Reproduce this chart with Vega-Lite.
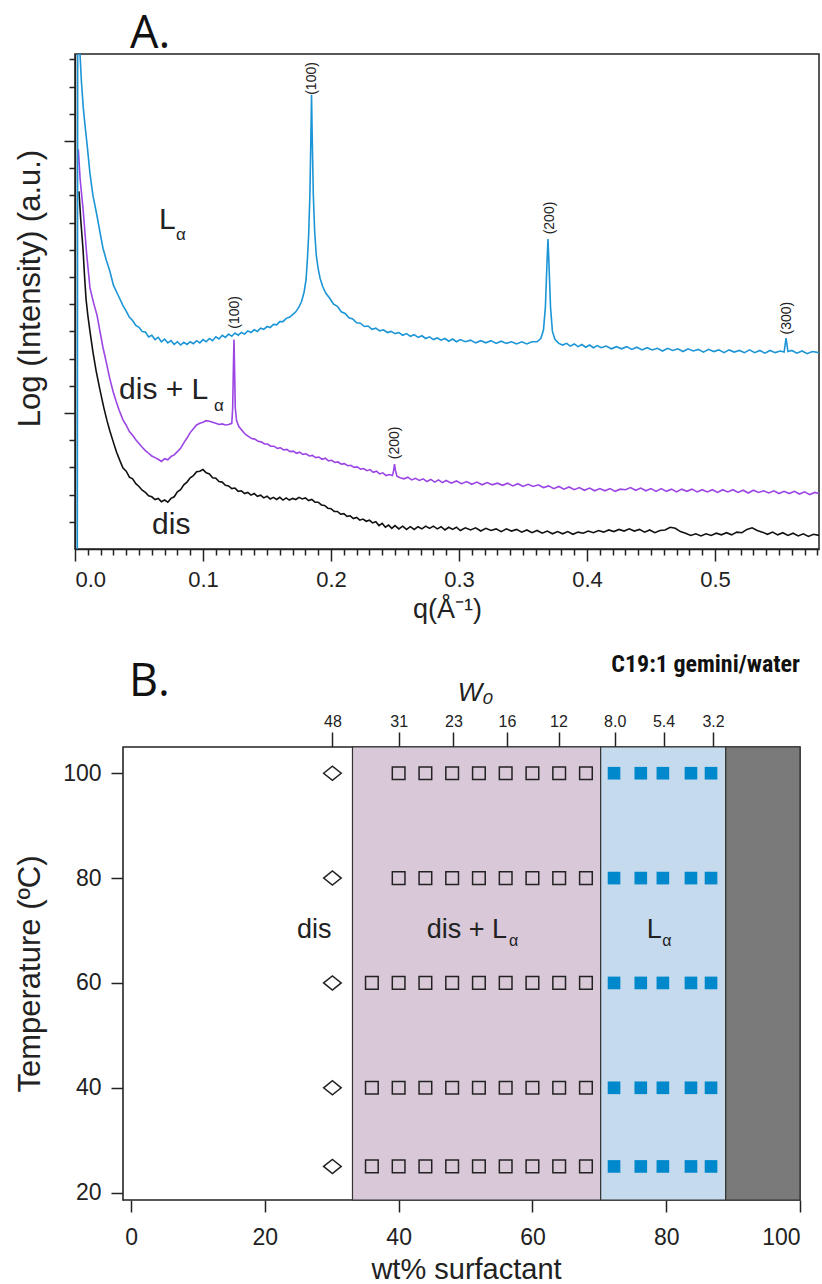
{
  "$schema": "https://vega.github.io/schema/vega-lite/v6.json",
  "padding": {"left": 13, "top": 11, "right": 0, "bottom": 0},
  "background": "white",
  "config": {
    "font": "Liberation Sans",
    "view": {"stroke": "#222", "strokeWidth": 1.5},
    "axis": {"domainColor": "#222", "tickColor": "#222", "labelColor": "#222", "titleColor": "#222", "grid": false, "domainWidth": 1.5, "tickWidth": 1.5, "titleFontWeight": "normal"}
  },
  "datasets": {
    "la": [
      {"q":0.0018,"v":0},{"q":0.0021,"v":18.2},{"q":0.0039,"v":18.2},{"q":0.005,"v":17.2},{"q":0.0065,"v":16.2},{"q":0.008,"v":15.5},{"q":0.0095,"v":14.85},{"q":0.0117,"v":13.8},{"q":0.014,"v":13.0},{"q":0.017,"v":12.3},{"q":0.0195,"v":11.65},{"q":0.0219,"v":11.05},{"q":0.0245,"v":10.62},{"q":0.0273,"v":10.2},{"q":0.03,"v":9.7},{"q":0.0325,"v":9.45},{"q":0.035,"v":9.2},{"q":0.0375,"v":8.95},{"q":0.04,"v":8.75},{"q":0.0425,"v":8.52},{"q":0.045,"v":8.4},{"q":0.0475,"v":8.22},{"q":0.05,"v":8.15},{"q":0.0525,"v":8.0},{"q":0.055,"v":7.98},{"q":0.0575,"v":7.8},{"q":0.06,"v":7.86},{"q":0.0625,"v":7.7},{"q":0.065,"v":7.78},{"q":0.0675,"v":7.62},{"q":0.07,"v":7.72},{"q":0.0725,"v":7.58},{"q":0.075,"v":7.66},{"q":0.0775,"v":7.52},{"q":0.08,"v":7.62},{"q":0.0825,"v":7.5},{"q":0.085,"v":7.6},{"q":0.0875,"v":7.52},{"q":0.09,"v":7.62},{"q":0.0925,"v":7.55},{"q":0.095,"v":7.66},{"q":0.0975,"v":7.58},{"q":0.1,"v":7.7},{"q":0.1025,"v":7.62},{"q":0.105,"v":7.74},{"q":0.1075,"v":7.66},{"q":0.11,"v":7.8},{"q":0.1125,"v":7.72},{"q":0.115,"v":7.86},{"q":0.1175,"v":7.78},{"q":0.12,"v":7.9},{"q":0.1225,"v":7.82},{"q":0.125,"v":7.94},{"q":0.1275,"v":7.86},{"q":0.13,"v":7.96},{"q":0.1325,"v":7.9},{"q":0.135,"v":8.02},{"q":0.1375,"v":7.96},{"q":0.14,"v":8.06},{"q":0.1425,"v":8.0},{"q":0.145,"v":8.12},{"q":0.1475,"v":8.08},{"q":0.15,"v":8.18},{"q":0.1525,"v":8.14},{"q":0.155,"v":8.26},{"q":0.1575,"v":8.24},{"q":0.16,"v":8.36},{"q":0.1625,"v":8.36},{"q":0.165,"v":8.48},{"q":0.1675,"v":8.52},{"q":0.17,"v":8.62},{"q":0.1725,"v":8.72},{"q":0.175,"v":8.9},{"q":0.177,"v":9.1},{"q":0.179,"v":9.45},{"q":0.1805,"v":9.9},{"q":0.1815,"v":10.6},{"q":0.1825,"v":11.5},{"q":0.1835,"v":13.0},{"q":0.1843,"v":15.2},{"q":0.1848,"v":16.7},{"q":0.1853,"v":15.2},{"q":0.1862,"v":13.0},{"q":0.1872,"v":11.7},{"q":0.1885,"v":10.8},{"q":0.19,"v":10.3},{"q":0.1915,"v":9.95},{"q":0.1935,"v":9.65},{"q":0.196,"v":9.4},{"q":0.199,"v":9.22},{"q":0.202,"v":9.0},{"q":0.205,"v":8.92},{"q":0.208,"v":8.72},{"q":0.211,"v":8.66},{"q":0.214,"v":8.5},{"q":0.217,"v":8.46},{"q":0.22,"v":8.32},{"q":0.223,"v":8.3},{"q":0.226,"v":8.18},{"q":0.229,"v":8.2},{"q":0.232,"v":8.08},{"q":0.235,"v":8.12},{"q":0.238,"v":8.02},{"q":0.241,"v":8.06},{"q":0.244,"v":7.96},{"q":0.247,"v":8.0},{"q":0.25,"v":7.92},{"q":0.253,"v":7.96},{"q":0.256,"v":7.86},{"q":0.259,"v":7.92},{"q":0.262,"v":7.82},{"q":0.265,"v":7.88},{"q":0.268,"v":7.78},{"q":0.271,"v":7.84},{"q":0.274,"v":7.74},{"q":0.277,"v":7.8},{"q":0.28,"v":7.7},{"q":0.283,"v":7.76},{"q":0.286,"v":7.68},{"q":0.289,"v":7.74},{"q":0.292,"v":7.64},{"q":0.295,"v":7.72},{"q":0.298,"v":7.62},{"q":0.301,"v":7.7},{"q":0.305,"v":7.62},{"q":0.309,"v":7.68},{"q":0.313,"v":7.58},{"q":0.317,"v":7.66},{"q":0.321,"v":7.58},{"q":0.325,"v":7.66},{"q":0.329,"v":7.56},{"q":0.333,"v":7.64},{"q":0.337,"v":7.56},{"q":0.341,"v":7.62},{"q":0.345,"v":7.54},{"q":0.349,"v":7.62},{"q":0.353,"v":7.54},{"q":0.357,"v":7.62},{"q":0.361,"v":7.62},{"q":0.364,"v":7.75},{"q":0.366,"v":8.05},{"q":0.3675,"v":8.9},{"q":0.3688,"v":10.6},{"q":0.3695,"v":11.4},{"q":0.3702,"v":10.6},{"q":0.3715,"v":8.9},{"q":0.373,"v":8.0},{"q":0.375,"v":7.7},{"q":0.378,"v":7.56},{"q":0.381,"v":7.5},{"q":0.384,"v":7.56},{"q":0.387,"v":7.46},{"q":0.39,"v":7.54},{"q":0.393,"v":7.44},{"q":0.396,"v":7.52},{"q":0.399,"v":7.42},{"q":0.402,"v":7.5},{"q":0.405,"v":7.4},{"q":0.408,"v":7.48},{"q":0.411,"v":7.4},{"q":0.415,"v":7.46},{"q":0.419,"v":7.36},{"q":0.423,"v":7.44},{"q":0.427,"v":7.36},{"q":0.431,"v":7.44},{"q":0.435,"v":7.34},{"q":0.439,"v":7.42},{"q":0.443,"v":7.32},{"q":0.447,"v":7.4},{"q":0.451,"v":7.32},{"q":0.455,"v":7.38},{"q":0.459,"v":7.28},{"q":0.463,"v":7.38},{"q":0.467,"v":7.3},{"q":0.471,"v":7.36},{"q":0.475,"v":7.26},{"q":0.479,"v":7.36},{"q":0.483,"v":7.28},{"q":0.487,"v":7.34},{"q":0.491,"v":7.24},{"q":0.495,"v":7.34},{"q":0.499,"v":7.26},{"q":0.503,"v":7.32},{"q":0.507,"v":7.22},{"q":0.511,"v":7.32},{"q":0.515,"v":7.24},{"q":0.519,"v":7.3},{"q":0.523,"v":7.22},{"q":0.527,"v":7.32},{"q":0.531,"v":7.22},{"q":0.535,"v":7.3},{"q":0.539,"v":7.2},{"q":0.543,"v":7.3},{"q":0.547,"v":7.22},{"q":0.551,"v":7.28},{"q":0.554,"v":7.24},{"q":0.5555,"v":7.75},{"q":0.557,"v":7.26},{"q":0.56,"v":7.3},{"q":0.564,"v":7.2},{"q":0.568,"v":7.28},{"q":0.572,"v":7.18},{"q":0.576,"v":7.26},{"q":0.5813,"v":7.22}
    ],
    "mix": [
      {"q":0.0026,"v":14.7},{"q":0.004,"v":13.6},{"q":0.0063,"v":12.5},{"q":0.009,"v":10.9},{"q":0.0117,"v":9.6},{"q":0.0145,"v":9.05},{"q":0.0172,"v":8.6},{"q":0.0195,"v":8.0},{"q":0.0219,"v":7.4},{"q":0.0245,"v":6.85},{"q":0.027,"v":6.3},{"q":0.0297,"v":5.8},{"q":0.032,"v":5.45},{"q":0.0345,"v":5.1},{"q":0.0375,"v":4.75},{"q":0.04,"v":4.55},{"q":0.0425,"v":4.32},{"q":0.045,"v":4.18},{"q":0.0475,"v":4.02},{"q":0.05,"v":3.88},{"q":0.0525,"v":3.74},{"q":0.055,"v":3.62},{"q":0.0575,"v":3.52},{"q":0.06,"v":3.42},{"q":0.0625,"v":3.36},{"q":0.065,"v":3.3},{"q":0.0675,"v":3.22},{"q":0.07,"v":3.32},{"q":0.0725,"v":3.28},{"q":0.075,"v":3.4},{"q":0.0775,"v":3.46},{"q":0.08,"v":3.58},{"q":0.0825,"v":3.7},{"q":0.085,"v":3.9},{"q":0.0875,"v":4.08},{"q":0.09,"v":4.28},{"q":0.0925,"v":4.42},{"q":0.095,"v":4.56},{"q":0.0975,"v":4.62},{"q":0.1,"v":4.66},{"q":0.1025,"v":4.72},{"q":0.105,"v":4.7},{"q":0.1075,"v":4.66},{"q":0.11,"v":4.62},{"q":0.1125,"v":4.58},{"q":0.115,"v":4.6},{"q":0.1175,"v":4.56},{"q":0.12,"v":4.58},{"q":0.1225,"v":4.62},{"q":0.1232,"v":5.2},{"q":0.1238,"v":6.8},{"q":0.1242,"v":7.7},{"q":0.1246,"v":6.8},{"q":0.1252,"v":5.2},{"q":0.1262,"v":4.72},{"q":0.128,"v":4.5},{"q":0.1305,"v":4.36},{"q":0.133,"v":4.22},{"q":0.1355,"v":4.14},{"q":0.138,"v":4.06},{"q":0.1405,"v":4.04},{"q":0.143,"v":3.96},{"q":0.1455,"v":3.94},{"q":0.148,"v":3.86},{"q":0.1505,"v":3.86},{"q":0.153,"v":3.78},{"q":0.1555,"v":3.78},{"q":0.158,"v":3.7},{"q":0.1605,"v":3.72},{"q":0.163,"v":3.64},{"q":0.1655,"v":3.66},{"q":0.168,"v":3.58},{"q":0.1705,"v":3.6},{"q":0.173,"v":3.52},{"q":0.1755,"v":3.56},{"q":0.178,"v":3.48},{"q":0.1805,"v":3.5},{"q":0.183,"v":3.42},{"q":0.1855,"v":3.44},{"q":0.188,"v":3.36},{"q":0.1905,"v":3.38},{"q":0.193,"v":3.3},{"q":0.1955,"v":3.34},{"q":0.198,"v":3.24},{"q":0.2005,"v":3.26},{"q":0.203,"v":3.18},{"q":0.2055,"v":3.2},{"q":0.208,"v":3.12},{"q":0.2105,"v":3.14},{"q":0.213,"v":3.06},{"q":0.2155,"v":3.08},{"q":0.218,"v":3.0},{"q":0.2205,"v":3.02},{"q":0.223,"v":2.94},{"q":0.2255,"v":2.96},{"q":0.228,"v":2.88},{"q":0.2305,"v":2.92},{"q":0.233,"v":2.82},{"q":0.2355,"v":2.86},{"q":0.238,"v":2.76},{"q":0.2405,"v":2.8},{"q":0.243,"v":2.7},{"q":0.2455,"v":2.74},{"q":0.248,"v":2.7},{"q":0.249,"v":2.9},{"q":0.2496,"v":3.12},{"q":0.2503,"v":2.9},{"q":0.2515,"v":2.68},{"q":0.254,"v":2.62},{"q":0.257,"v":2.58},{"q":0.26,"v":2.64},{"q":0.263,"v":2.54},{"q":0.266,"v":2.6},{"q":0.269,"v":2.52},{"q":0.272,"v":2.58},{"q":0.275,"v":2.48},{"q":0.278,"v":2.56},{"q":0.281,"v":2.46},{"q":0.284,"v":2.54},{"q":0.287,"v":2.44},{"q":0.29,"v":2.52},{"q":0.294,"v":2.42},{"q":0.298,"v":2.5},{"q":0.302,"v":2.4},{"q":0.306,"v":2.48},{"q":0.31,"v":2.38},{"q":0.314,"v":2.46},{"q":0.318,"v":2.36},{"q":0.322,"v":2.44},{"q":0.326,"v":2.36},{"q":0.33,"v":2.42},{"q":0.334,"v":2.34},{"q":0.338,"v":2.42},{"q":0.342,"v":2.32},{"q":0.346,"v":2.4},{"q":0.35,"v":2.3},{"q":0.354,"v":2.38},{"q":0.358,"v":2.3},{"q":0.362,"v":2.36},{"q":0.366,"v":2.26},{"q":0.37,"v":2.32},{"q":0.374,"v":2.22},{"q":0.378,"v":2.3},{"q":0.382,"v":2.2},{"q":0.386,"v":2.28},{"q":0.39,"v":2.18},{"q":0.394,"v":2.26},{"q":0.398,"v":2.16},{"q":0.402,"v":2.24},{"q":0.406,"v":2.14},{"q":0.41,"v":2.22},{"q":0.414,"v":2.14},{"q":0.418,"v":2.22},{"q":0.422,"v":2.12},{"q":0.426,"v":2.2},{"q":0.43,"v":2.18},{"q":0.434,"v":2.26},{"q":0.438,"v":2.16},{"q":0.442,"v":2.24},{"q":0.446,"v":2.14},{"q":0.45,"v":2.22},{"q":0.454,"v":2.12},{"q":0.458,"v":2.22},{"q":0.462,"v":2.12},{"q":0.466,"v":2.2},{"q":0.47,"v":2.1},{"q":0.474,"v":2.2},{"q":0.478,"v":2.12},{"q":0.482,"v":2.2},{"q":0.486,"v":2.1},{"q":0.49,"v":2.18},{"q":0.494,"v":2.1},{"q":0.498,"v":2.18},{"q":0.502,"v":2.08},{"q":0.506,"v":2.18},{"q":0.51,"v":2.1},{"q":0.514,"v":2.18},{"q":0.518,"v":2.08},{"q":0.522,"v":2.16},{"q":0.526,"v":2.06},{"q":0.53,"v":2.16},{"q":0.534,"v":2.08},{"q":0.538,"v":2.14},{"q":0.542,"v":2.06},{"q":0.546,"v":2.14},{"q":0.55,"v":2.04},{"q":0.554,"v":2.12},{"q":0.558,"v":2.04},{"q":0.562,"v":2.12},{"q":0.566,"v":2.02},{"q":0.57,"v":2.1},{"q":0.574,"v":2.0},{"q":0.578,"v":2.08},{"q":0.5813,"v":2.04}
    ],
    "dis": [
      {"q":0.0031,"v":13.15},{"q":0.0045,"v":12.1},{"q":0.0063,"v":11.0},{"q":0.0075,"v":10.0},{"q":0.0086,"v":9.2},{"q":0.01,"v":8.6},{"q":0.0117,"v":8.0},{"q":0.014,"v":7.25},{"q":0.0165,"v":6.55},{"q":0.0195,"v":5.85},{"q":0.0225,"v":5.2},{"q":0.025,"v":4.72},{"q":0.0273,"v":4.33},{"q":0.03,"v":3.92},{"q":0.0325,"v":3.56},{"q":0.035,"v":3.26},{"q":0.0375,"v":2.98},{"q":0.04,"v":2.86},{"q":0.0425,"v":2.64},{"q":0.045,"v":2.58},{"q":0.0475,"v":2.4},{"q":0.05,"v":2.3},{"q":0.0525,"v":2.16},{"q":0.055,"v":2.08},{"q":0.0575,"v":1.96},{"q":0.06,"v":1.92},{"q":0.0625,"v":1.82},{"q":0.065,"v":1.86},{"q":0.0675,"v":1.74},{"q":0.07,"v":1.8},{"q":0.0725,"v":1.72},{"q":0.075,"v":1.86},{"q":0.0775,"v":1.92},{"q":0.08,"v":2.1},{"q":0.0825,"v":2.18},{"q":0.085,"v":2.36},{"q":0.0875,"v":2.46},{"q":0.09,"v":2.62},{"q":0.0925,"v":2.7},{"q":0.095,"v":2.84},{"q":0.0975,"v":2.86},{"q":0.1,"v":2.92},{"q":0.1025,"v":2.8},{"q":0.105,"v":2.76},{"q":0.1075,"v":2.62},{"q":0.11,"v":2.6},{"q":0.1125,"v":2.48},{"q":0.115,"v":2.46},{"q":0.1175,"v":2.34},{"q":0.12,"v":2.32},{"q":0.1225,"v":2.22},{"q":0.125,"v":2.24},{"q":0.1275,"v":2.12},{"q":0.13,"v":2.14},{"q":0.1325,"v":2.04},{"q":0.135,"v":2.08},{"q":0.1375,"v":1.98},{"q":0.14,"v":2.04},{"q":0.1425,"v":1.94},{"q":0.145,"v":1.98},{"q":0.1475,"v":1.88},{"q":0.15,"v":1.94},{"q":0.1525,"v":1.84},{"q":0.155,"v":1.9},{"q":0.1575,"v":1.82},{"q":0.16,"v":1.9},{"q":0.1625,"v":1.8},{"q":0.165,"v":1.88},{"q":0.1675,"v":1.8},{"q":0.17,"v":1.86},{"q":0.1725,"v":1.82},{"q":0.175,"v":1.9},{"q":0.1775,"v":1.84},{"q":0.18,"v":1.88},{"q":0.1825,"v":1.78},{"q":0.185,"v":1.82},{"q":0.1875,"v":1.72},{"q":0.19,"v":1.72},{"q":0.1925,"v":1.62},{"q":0.195,"v":1.6},{"q":0.1975,"v":1.5},{"q":0.2,"v":1.48},{"q":0.2025,"v":1.38},{"q":0.205,"v":1.38},{"q":0.2075,"v":1.28},{"q":0.21,"v":1.3},{"q":0.2125,"v":1.2},{"q":0.215,"v":1.22},{"q":0.2175,"v":1.12},{"q":0.22,"v":1.16},{"q":0.2225,"v":1.06},{"q":0.225,"v":1.1},{"q":0.2275,"v":1.02},{"q":0.23,"v":1.06},{"q":0.2325,"v":0.96},{"q":0.235,"v":1.0},{"q":0.2375,"v":0.86},{"q":0.24,"v":0.94},{"q":0.2425,"v":0.8},{"q":0.245,"v":0.88},{"q":0.2475,"v":0.76},{"q":0.25,"v":0.86},{"q":0.253,"v":0.74},{"q":0.256,"v":0.84},{"q":0.259,"v":0.72},{"q":0.262,"v":0.82},{"q":0.265,"v":0.72},{"q":0.268,"v":0.82},{"q":0.271,"v":0.74},{"q":0.274,"v":0.84},{"q":0.277,"v":0.76},{"q":0.28,"v":0.84},{"q":0.283,"v":0.74},{"q":0.286,"v":0.82},{"q":0.289,"v":0.7},{"q":0.292,"v":0.8},{"q":0.295,"v":0.72},{"q":0.298,"v":0.8},{"q":0.301,"v":0.68},{"q":0.305,"v":0.78},{"q":0.309,"v":0.7},{"q":0.313,"v":0.78},{"q":0.317,"v":0.66},{"q":0.321,"v":0.76},{"q":0.325,"v":0.68},{"q":0.329,"v":0.74},{"q":0.333,"v":0.64},{"q":0.337,"v":0.74},{"q":0.341,"v":0.66},{"q":0.345,"v":0.72},{"q":0.349,"v":0.62},{"q":0.353,"v":0.7},{"q":0.357,"v":0.6},{"q":0.361,"v":0.68},{"q":0.365,"v":0.58},{"q":0.369,"v":0.66},{"q":0.373,"v":0.56},{"q":0.377,"v":0.64},{"q":0.381,"v":0.56},{"q":0.385,"v":0.64},{"q":0.389,"v":0.54},{"q":0.393,"v":0.62},{"q":0.397,"v":0.58},{"q":0.401,"v":0.66},{"q":0.405,"v":0.6},{"q":0.409,"v":0.68},{"q":0.413,"v":0.62},{"q":0.417,"v":0.7},{"q":0.421,"v":0.64},{"q":0.425,"v":0.72},{"q":0.429,"v":0.66},{"q":0.433,"v":0.74},{"q":0.437,"v":0.66},{"q":0.441,"v":0.72},{"q":0.445,"v":0.62},{"q":0.449,"v":0.7},{"q":0.453,"v":0.6},{"q":0.457,"v":0.68},{"q":0.461,"v":0.7},{"q":0.465,"v":0.8},{"q":0.469,"v":0.76},{"q":0.473,"v":0.64},{"q":0.477,"v":0.58},{"q":0.481,"v":0.5},{"q":0.485,"v":0.56},{"q":0.489,"v":0.48},{"q":0.493,"v":0.56},{"q":0.497,"v":0.5},{"q":0.501,"v":0.58},{"q":0.505,"v":0.52},{"q":0.509,"v":0.6},{"q":0.513,"v":0.52},{"q":0.517,"v":0.62},{"q":0.521,"v":0.6},{"q":0.525,"v":0.72},{"q":0.529,"v":0.78},{"q":0.533,"v":0.68},{"q":0.537,"v":0.62},{"q":0.541,"v":0.54},{"q":0.545,"v":0.62},{"q":0.549,"v":0.52},{"q":0.553,"v":0.6},{"q":0.557,"v":0.5},{"q":0.561,"v":0.58},{"q":0.565,"v":0.48},{"q":0.569,"v":0.56},{"q":0.573,"v":0.46},{"q":0.577,"v":0.54},{"q":0.5813,"v":0.5}
    ],
    "labA": [
      {"q":0.0656,"v":11.75,"t":"L"},{"q":0.0344,"v":5.5,"t":"dis + L"},{"q":0.0602,"v":0.54,"t":"dis"}
    ],
    "subA": [
      {"q":0.0789,"v":11.35,"t":"α"},{"q":0.1086,"v":5.06,"t":"α"}
    ],
    "peaks": [
      {"q":0.1852,"v":17.3,"t":"(100)"},{"q":0.371,"v":12.17,"t":"(200)"},{"q":0.125,"v":8.7,"t":"(100)"},{"q":0.25,"v":3.9,"t":"(200)"},{"q":0.5566,"v":8.49,"t":"(300)"}
    ],
    "frame": [
      {"a":-1.2,"b":100}
    ],
    "regions": [
      {"a":33.1,"b":70.2,"ph":"mix"},{"a":70.2,"b":88.9,"ph":"La"},{"a":88.9,"b":100,"ph":"solid"}
    ],
    "dia": [
      {"w":30.1,"T":100},{"w":30.1,"T":80},{"w":30.1,"T":60},{"w":30.1,"T":40},{"w":30.1,"T":25}
    ],
    "osq": [
      {"w":40,"T":100},{"w":44,"T":100},{"w":48,"T":100},{"w":52,"T":100},{"w":56,"T":100},{"w":60,"T":100},{"w":64,"T":100},{"w":68,"T":100},
      {"w":40,"T":80},{"w":44,"T":80},{"w":48,"T":80},{"w":52,"T":80},{"w":56,"T":80},{"w":60,"T":80},{"w":64,"T":80},{"w":68,"T":80},
      {"w":36,"T":60},{"w":40,"T":60},{"w":44,"T":60},{"w":48,"T":60},{"w":52,"T":60},{"w":56,"T":60},{"w":60,"T":60},{"w":64,"T":60},{"w":68,"T":60},
      {"w":36,"T":40},{"w":40,"T":40},{"w":44,"T":40},{"w":48,"T":40},{"w":52,"T":40},{"w":56,"T":40},{"w":60,"T":40},{"w":64,"T":40},{"w":68,"T":40},
      {"w":36,"T":25},{"w":40,"T":25},{"w":44,"T":25},{"w":48,"T":25},{"w":52,"T":25},{"w":56,"T":25},{"w":60,"T":25},{"w":64,"T":25},{"w":68,"T":25}
    ],
    "fsq": [
      {"w":72.2,"T":100},{"w":76.2,"T":100},{"w":79.5,"T":100},{"w":83.7,"T":100},{"w":86.7,"T":100},
      {"w":72.2,"T":80},{"w":76.2,"T":80},{"w":79.5,"T":80},{"w":83.7,"T":80},{"w":86.7,"T":80},
      {"w":72.2,"T":60},{"w":76.2,"T":60},{"w":79.5,"T":60},{"w":83.7,"T":60},{"w":86.7,"T":60},
      {"w":72.2,"T":40},{"w":76.2,"T":40},{"w":79.5,"T":40},{"w":83.7,"T":40},{"w":86.7,"T":40},
      {"w":72.2,"T":25},{"w":76.2,"T":25},{"w":79.5,"T":25},{"w":83.7,"T":25},{"w":86.7,"T":25}
    ],
    "labB": [
      {"w":24.8,"T":68.6,"t":"dis"},{"w":44.2,"T":68.6,"t":"dis + L"},{"w":77.1,"T":68.6,"t":"L"}
    ],
    "subB": [
      {"w":56.5,"T":67.1,"t":"α"},{"w":79.4,"T":67.1,"t":"α"}
    ],
    "headB": [
      {"w":-0.3,"T":114.7,"t":"B."}
    ],
    "headB2": [
      {"w":100,"T":119.3,"t":"C19:1 gemini/water"}
    ]
  },
  "vconcat": [
    {
      "width": 744,
      "height": 495,
      "title": {"text": "A.", "anchor": "start", "frame": "group", "font": "Open Sans", "fontSize": 45, "fontWeight": "normal", "dx": 55, "offset": -39, "baseline": "alphabetic", "color": "#111"},
      "resolve": {"axis": {"x": "independent", "y": "independent"}},
      "layer": [
        {
          "data": {"name": "dis"},
          "mark": {"type": "line", "stroke": "#111111", "strokeWidth": 1.6, "clip": true},
          "encoding": {
            "x": {"field": "q", "type": "quantitative", "scale": {"domain": [0, 0.58125], "nice": false, "zero": false},
                  "axis": {"orient": "bottom", "values": [0, 0.1, 0.2, 0.3, 0.4, 0.5], "format": ".1f", "tickSize": 12, "labelPadding": 8, "labelFontSize": 22, "title": "q(Å⁻¹)", "titleFontSize": 27, "titlePadding": 6}},
            "y": {"field": "v", "type": "quantitative", "scale": {"domain": [0, 18.2], "nice": false, "zero": false},
                  "axis": {"orient": "left", "values": [5, 15], "tickSize": 11, "labels": false, "title": "Log (Intensity) (a.u.)", "titleFontSize": 31, "titleX": -29, "titleY": 234}}
          }
        },
        {
          "data": {"name": "mix"},
          "mark": {"type": "line", "stroke": "#9b45e4", "strokeWidth": 1.6, "clip": true},
          "encoding": {
            "x": {"field": "q", "type": "quantitative",
                  "axis": {"orient": "bottom", "values": [0.01,0.02,0.03,0.04,0.05,0.06,0.07,0.08,0.09,0.11,0.12,0.13,0.14,0.15,0.16,0.17,0.18,0.19,0.21,0.22,0.23,0.24,0.25,0.26,0.27,0.28,0.29,0.31,0.32,0.33,0.34,0.35,0.36,0.37,0.38,0.39,0.41,0.42,0.43,0.44,0.45,0.46,0.47,0.48,0.49,0.51,0.52,0.53,0.54,0.55,0.56,0.57,0.58], "tickSize": 6, "labels": false, "domain": false, "title": null}},
            "y": {"field": "v", "type": "quantitative",
                  "axis": {"orient": "left", "values": [1,2,3,4,6,7,8,9,10,11,12,13,14,16,17,18], "tickSize": 6, "labels": false, "domain": false, "title": null}}
          }
        },
        {
          "data": {"name": "la"},
          "mark": {"type": "line", "stroke": "#1b95d6", "strokeWidth": 1.6, "clip": true},
          "encoding": {
            "x": {"field": "q", "type": "quantitative", "axis": null},
            "y": {"field": "v", "type": "quantitative", "axis": null}
          }
        },
        {
          "data": {"name": "labA"},
          "mark": {"type": "text", "fontSize": 30, "align": "left", "baseline": "alphabetic", "color": "#222"},
          "encoding": {
            "x": {"field": "q", "type": "quantitative", "axis": null},
            "y": {"field": "v", "type": "quantitative", "axis": null},
            "text": {"field": "t"}
          }
        },
        {
          "data": {"name": "subA"},
          "mark": {"type": "text", "fontSize": 17, "align": "left", "baseline": "alphabetic", "color": "#222"},
          "encoding": {
            "x": {"field": "q", "type": "quantitative", "axis": null},
            "y": {"field": "v", "type": "quantitative", "axis": null},
            "text": {"field": "t"}
          }
        },
        {
          "data": {"name": "peaks"},
          "mark": {"type": "text", "fontSize": 14, "angle": 270, "align": "center", "baseline": "middle", "color": "#222"},
          "encoding": {
            "x": {"field": "q", "type": "quantitative", "axis": null},
            "y": {"field": "v", "type": "quantitative", "axis": null},
            "text": {"field": "t"}
          }
        }
      ]
    },
    {
      "width": 725,
      "height": 453,
      "view": {"stroke": null},
      "resolve": {"axis": {"x": "independent", "y": "independent"}},
      "layer": [
        {
          "data": {"name": "frame"},
          "mark": {"type": "rect", "fill": "white", "stroke": "#222", "strokeWidth": 1.5},
          "encoding": {
            "x": {"field": "a", "type": "quantitative", "scale": {"domain": [-8.38, 100], "nice": false, "zero": false},
                  "axis": {"orient": "bottom", "values": [0, 20, 40, 60, 80, 100], "tickSize": 12, "labelPadding": 14, "labelFontSize": 23, "domain": false, "title": "wt% surfactant", "titleFontSize": 29, "titlePadding": 6, "titleX": 391}},
            "x2": {"field": "b"}
          }
        },
        {
          "data": {"name": "regions"},
          "mark": {"type": "rect", "stroke": "#333", "strokeWidth": 1.2},
          "encoding": {
            "x": {"field": "a", "type": "quantitative", "axis": null},
            "x2": {"field": "b"},
            "fill": {"field": "ph", "type": "nominal", "scale": {"domain": ["mix", "La", "solid"], "range": ["#d9c9d8", "#c5daed", "#7a7a7a"]}, "legend": null}
          }
        },
        {
          "data": {"name": "dia"},
          "mark": {"type": "point", "shape": "M-1,0L0,-0.8L1,0L0,0.8Z", "size": 310, "filled": false, "stroke": "#222", "strokeWidth": 1.5, "opacity": 1},
          "encoding": {
            "x": {"field": "w", "type": "quantitative", "axis": null},
            "y": {"field": "T", "type": "quantitative", "scale": {"domain": [18.6, 105], "nice": false, "zero": false},
                  "axis": {"orient": "left", "offset": -48, "values": [20, 40, 60, 80, 100], "tickSize": 12, "labelPadding": 10, "labelFontSize": 23, "title": "Temperature (ºC)", "titleFontSize": 31, "titleX": -77}}
          }
        },
        {
          "data": {"name": "osq"},
          "mark": {"type": "square", "size": 160, "filled": false, "stroke": "#222", "strokeWidth": 1.5, "opacity": 1},
          "encoding": {
            "x": {"field": "w", "type": "quantitative",
                  "axis": {"orient": "top", "values": [30.1, 40, 48.2, 56.2, 63.9, 72.3, 79.6, 87.0], "labelExpr": "datum.value < 35 ? '48' : datum.value < 44 ? '31' : datum.value < 52 ? '23' : datum.value < 60 ? '16' : datum.value < 68 ? '12' : datum.value < 76 ? '8.0' : datum.value < 83 ? '5.4' : '3.2'", "tickSize": 15, "labelPadding": 3, "labelFontSize": 16, "domain": false, "title": "W₀", "titleFontStyle": "italic", "titleFontSize": 26, "titlePadding": 8, "titleX": 400}},
            "y": {"field": "T", "type": "quantitative", "axis": null}
          }
        },
        {
          "data": {"name": "fsq"},
          "mark": {"type": "square", "size": 160, "filled": true, "color": "#0088cc", "opacity": 1},
          "encoding": {
            "x": {"field": "w", "type": "quantitative", "axis": null},
            "y": {"field": "T", "type": "quantitative", "axis": null}
          }
        },
        {
          "data": {"name": "labB"},
          "mark": {"type": "text", "fontSize": 27, "align": "left", "baseline": "alphabetic", "color": "#222"},
          "encoding": {
            "x": {"field": "w", "type": "quantitative", "axis": null},
            "y": {"field": "T", "type": "quantitative", "axis": null},
            "text": {"field": "t"}
          }
        },
        {
          "data": {"name": "subB"},
          "mark": {"type": "text", "fontSize": 16, "align": "left", "baseline": "alphabetic", "color": "#222"},
          "encoding": {
            "x": {"field": "w", "type": "quantitative", "axis": null},
            "y": {"field": "T", "type": "quantitative", "axis": null},
            "text": {"field": "t"}
          }
        },
        {
          "data": {"name": "headB"},
          "mark": {"type": "text", "font": "Open Sans", "fontSize": 45, "align": "left", "baseline": "alphabetic", "color": "#111"},
          "encoding": {
            "x": {"field": "w", "type": "quantitative", "axis": null},
            "y": {"field": "T", "type": "quantitative", "axis": null},
            "text": {"field": "t"}
          }
        },
        {
          "data": {"name": "headB2"},
          "mark": {"type": "text", "font": "Liberation Sans Narrow, Roboto Condensed, DejaVu Sans Condensed, Liberation Sans", "fontSize": 24, "fontWeight": "bold", "align": "right", "baseline": "alphabetic", "color": "#111"},
          "encoding": {
            "x": {"field": "w", "type": "quantitative", "axis": null},
            "y": {"field": "T", "type": "quantitative", "axis": null},
            "text": {"field": "t"}
          }
        }
      ]
    }
  ],
  "spacing": 30
}
